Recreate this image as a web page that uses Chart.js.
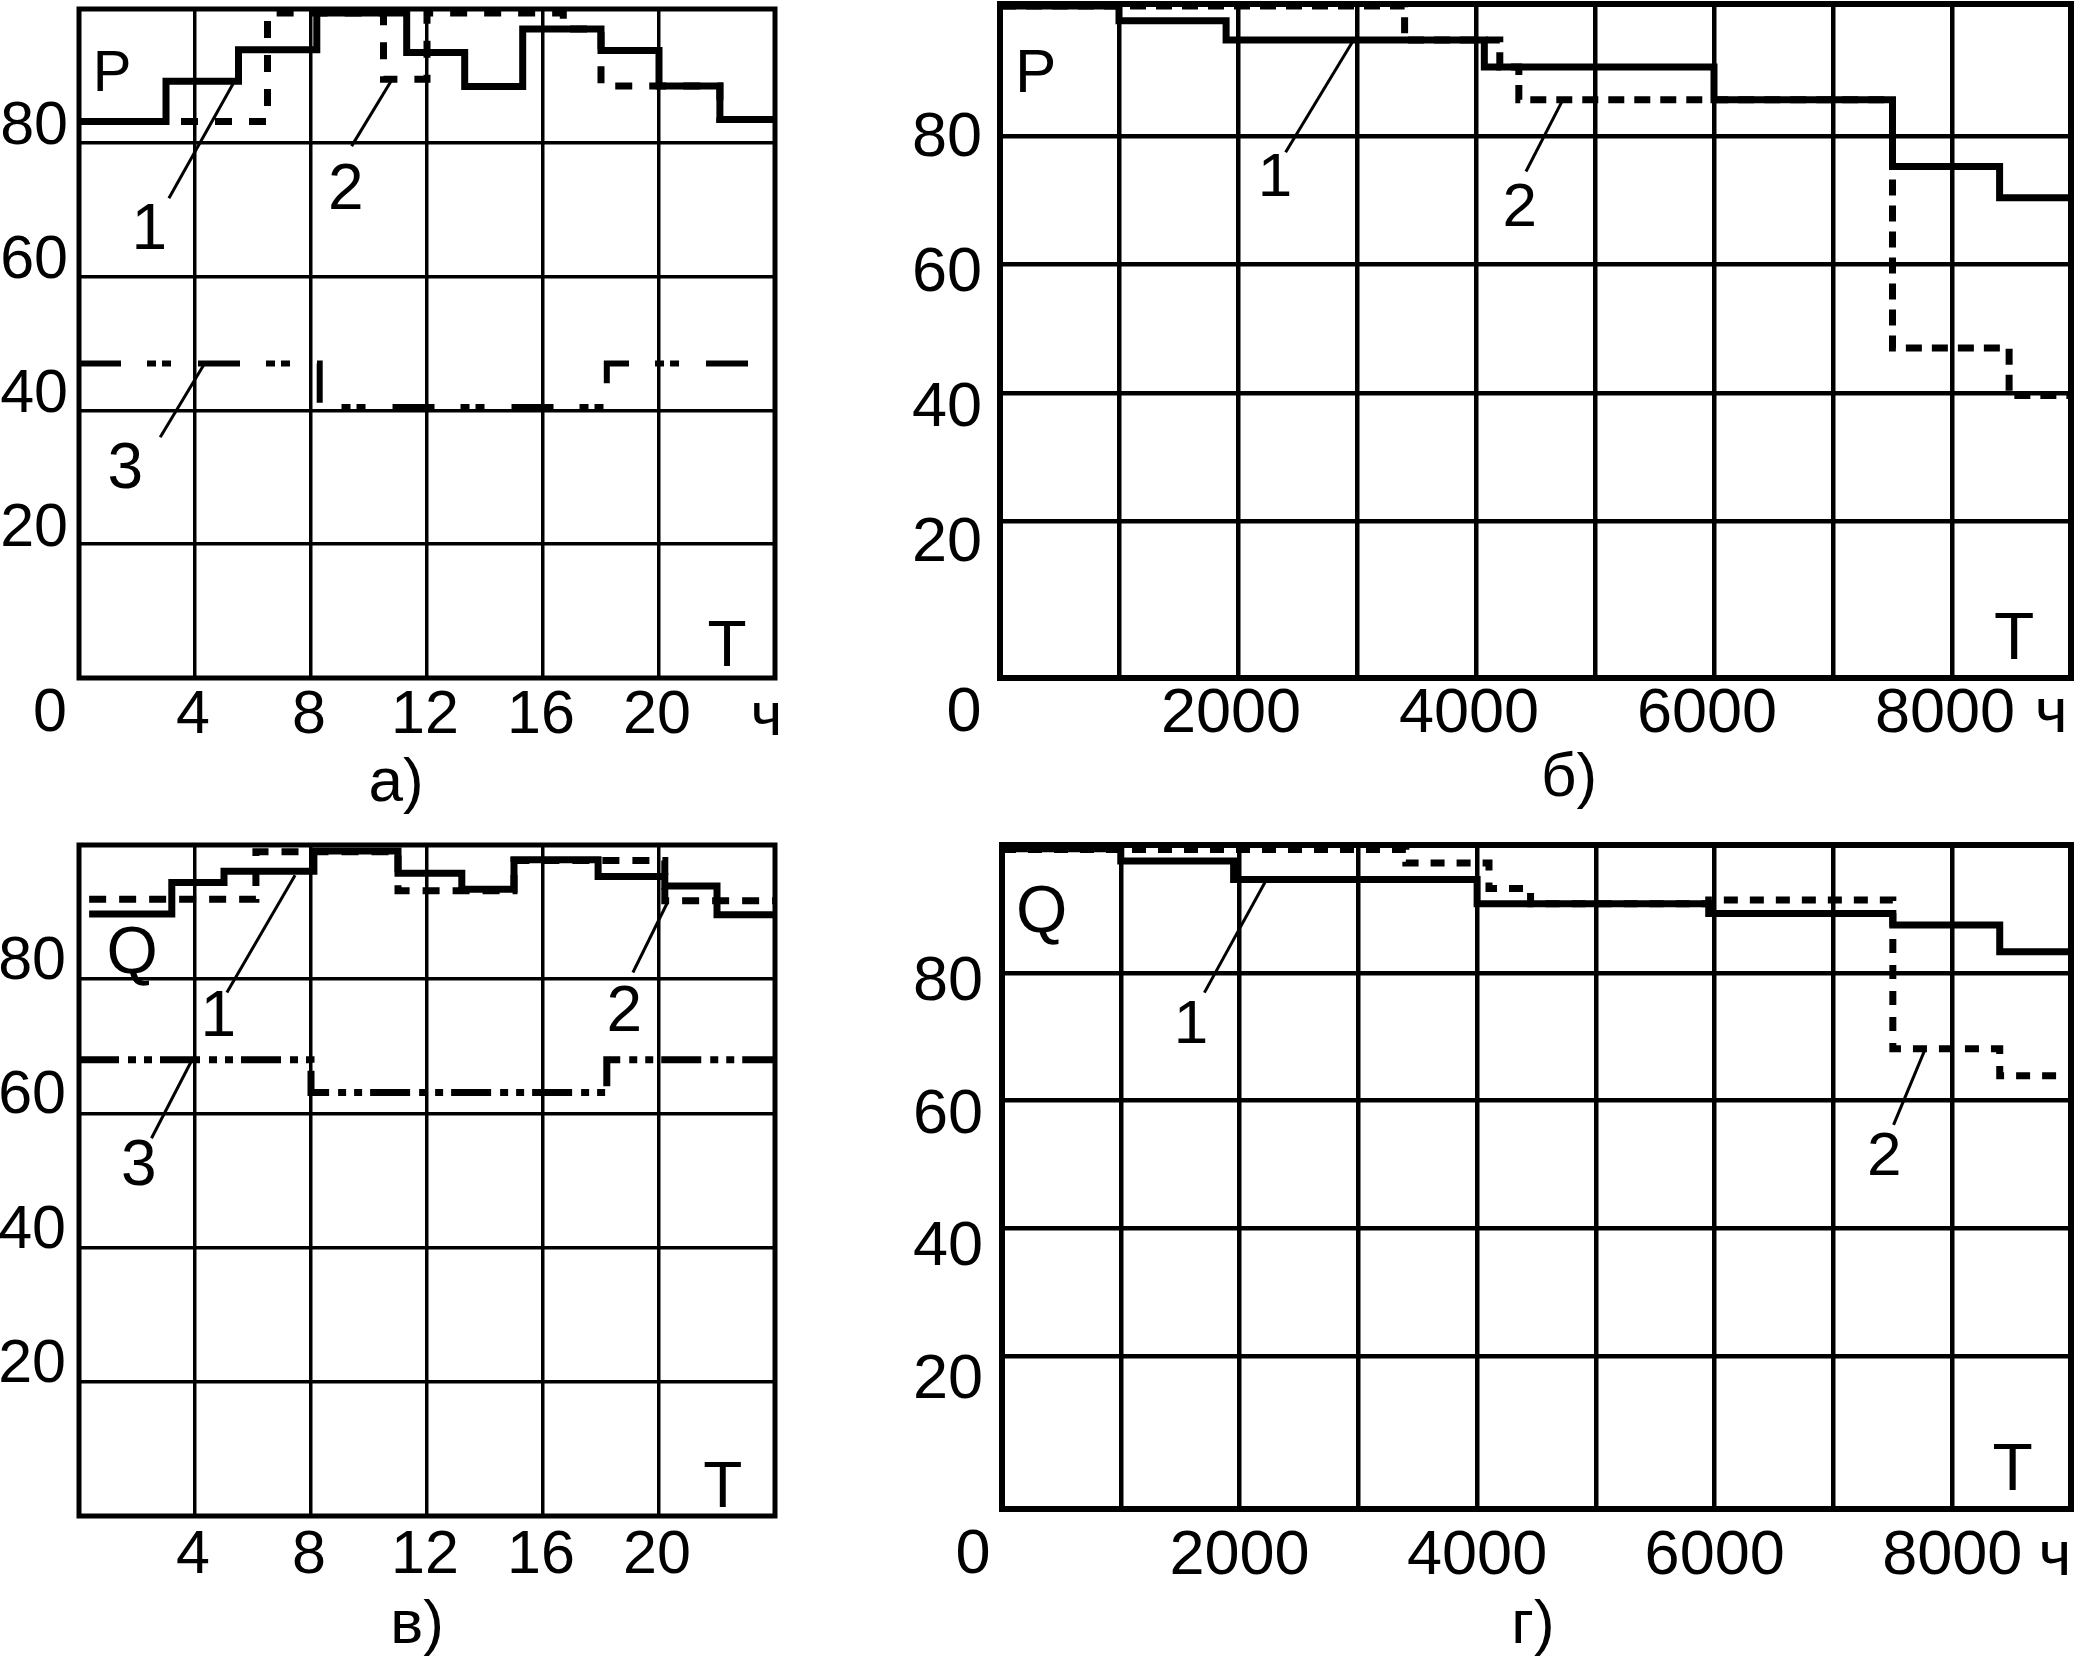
<!DOCTYPE html>
<html>
<head>
<meta charset="utf-8">
<title>P, Q</title>
<script src="https://cdn.jsdelivr.net/npm/chart.js@4.4.0/dist/chart.umd.min.js"></script>
<style>
  html, body { margin: 0; padding: 0; background: #fff; }
  body { width: 2076px; height: 1660px; position: relative; overflow: hidden; }
  canvas { position: absolute; }
</style>
</head>
<body>
<canvas id="chartA" width="830" height="830" style="left:0;top:0"></canvas>
<canvas id="chartB" width="1196" height="830" style="left:880px;top:0"></canvas>
<canvas id="chartV" width="830" height="830" style="left:0;top:830px"></canvas>
<canvas id="chartG" width="1196" height="830" style="left:880px;top:830px"></canvas>
<script>
const SANS = "'Liberation Sans', Arial, Helvetica, sans-serif";
const NARROW = "'Liberation Sans Narrow', 'Arial Narrow', 'Liberation Sans', Arial, sans-serif";

// axis ticks
const pctGrid = [20, 40, 60, 80];
const hourGrid = [0, 4, 8, 12, 16, 20, 24];
const hourLabels = ['', '4', '8', '12', '16', '20', ''];
const yearGrid = [0, 1000, 2000, 3000, 4000, 5000, 6000, 7000, 8000, 9000];
const yearLabels = ['', '', '2000', '', '4000', '', '6000', '', '8000', ''];

// а) P over a day (step starts, value held until next point)
const aT1 = [0, 3, 5.5, 8.2, 11.3, 13.3, 15.3, 18, 20, 22.1, 24];
const aP1 = [83.2, 89.2, 93.9, 99.4, 93.5, 88.4, 97, 93.8, 88.5, 83.5, 83.5];
const aT2 = [0, 6.5, 10.5, 12, 16.7, 18, 22.1, 24];
const aP2 = [83.2, 99.4, 89.5, 99.4, 97, 88.5, 83.5, 83.5];
const aT3 = [0, 8.3, 18.2, 24];
const aP3 = [47, 40.5, 47, 47];

// б) P over a year
const bT1 = [0, 1000, 1900, 4070, 6000, 7500, 8400, 9000];
const bP1 = [100.3, 98, 95, 90.8, 85.7, 75.3, 70.4, 70.4];
const bT2 = [0, 3400, 4200, 4360, 7500, 8480, 9000];
const bP2 = [100.3, 95, 90.8, 85.7, 47, 39.6, 39.6];

// в) Q over a day
const vT1 = [0.35, 3.2, 5.0, 8.1, 11.0, 13.2, 15.0, 17.9, 20.2, 22.0, 24];
const vQ1 = [89.7, 94.4, 96.1, 99.1, 95.8, 93.4, 97.8, 95.3, 93.9, 89.6, 89.6];
const vT2 = [0.35, 6.1, 11.0, 15.0, 20.2, 24];
const vQ2 = [91.9, 99.0, 93.2, 97.7, 91.7, 91.7];
const vT3 = [0, 8.0, 18.2, 24];
const vQ3 = [68, 63.1, 68, 68];

// г) Q over a year
const gT1 = [0, 1000, 1950, 4000, 5950, 7500, 8400, 9000];
const gQ1 = [99.4, 97.5, 94.6, 90.8, 89.3, 87.5, 83.3, 83.3];
const gT2 = [0, 3400, 4100, 4450, 5950, 7500, 8400, 9000];
const gQ2 = [99.3, 97.2, 93.2, 90.8, 91.4, 68.1, 63.9, 63.9];

function zeroPad(s) {
  s.paddingLeft = 0; s.paddingRight = 0; s.paddingTop = 0; s.paddingBottom = 0;
}

// frame, leader lines and in-plot letters
function notes(p) {
  return {
    id: 'notes',
    afterDatasetsDraw(chart) {
      const { ctx, chartArea } = chart;
      const x = chart.scales.x, y = chart.scales.y;
      ctx.save();
      ctx.strokeStyle = '#000';
      ctx.lineWidth = p.frame;
      ctx.strokeRect(chartArea.left, chartArea.top, chartArea.right - chartArea.left, chartArea.bottom - chartArea.top);

      ctx.lineWidth = 3;
      p.leaders.forEach(l => {
        ctx.beginPath();
        ctx.moveTo(x.getPixelForValue(l[0]), y.getPixelForValue(l[1]));
        ctx.lineTo(x.getPixelForValue(l[2]), y.getPixelForValue(l[3]));
        ctx.stroke();
      });

      ctx.fillStyle = '#000';
      ctx.textAlign = 'center';
      ctx.textBaseline = 'middle';
      p.marks.forEach(m => {
        ctx.font = m.size + 'px ' + p.family;
        ctx.fillText(m.text, x.getPixelForValue(m.x), y.getPixelForValue(m.y));
      });
      ctx.font = p.tickSize + 'px ' + p.family;
      if (p.zero) ctx.fillText('0', chartArea.left + p.zero.dx, chartArea.bottom + p.zero.dy);
      if (p.unit) ctx.fillText('ч', x.getPixelForValue(p.unit.x), chartArea.bottom + p.unit.dy);
      ctx.font = p.capSize + 'px ' + p.family;
      ctx.fillText(p.caption.text, chartArea.left + p.caption.dx, chartArea.bottom + p.caption.dy);
      ctx.restore();
    }
  };
}

function drawPanel(p) {
  const font = size => ({ family: p.family, size: size, lineHeight: 1 });
  new Chart(document.getElementById(p.id), {
    type: 'line',
    data: {
      datasets: p.series.map(s => ({
        data: s.t.map((t, i) => ({ x: t, y: s.v[i] })),
        borderColor: '#000',
        borderWidth: s.width,
        borderDash: s.dash || [],
        borderCapStyle: 'butt',
        borderJoinStyle: 'miter',
        pointRadius: 0,
        stepped: true,
        fill: false
      }))
    },
    options: {
      responsive: false,
      animation: false,
      devicePixelRatio: 1,
      events: [],
      layout: { padding: { left: 0, top: p.top, right: p.right, bottom: 0 } },
      plugins: { legend: { display: false }, tooltip: { enabled: false } },
      scales: {
        x: {
          type: 'linear', min: p.xMin, max: p.xMax,
          afterBuildTicks: s => { s.ticks = p.xGrid.map(v => ({ value: v })); },
          afterFit: s => { s.height = p.xHeight; zeroPad(s); },
          grid: { color: '#000', lineWidth: p.gridWidth, drawTicks: false },
          border: { display: false },
          ticks: {
            color: '#000', font: font(p.tickSize), padding: p.xPad,
            labelOffset: p.xLabelOffset, maxRotation: 0, autoSkip: false,
            callback: (v, i) => p.xLabels[i]
          }
        },
        y: {
          type: 'linear', position: 'left', weight: 0, min: p.yMin, max: p.yMax,
          afterBuildTicks: s => { s.ticks = pctGrid.map(v => ({ value: v })); },
          afterFit: s => { s.width = 0; zeroPad(s); },
          grid: { color: '#000', lineWidth: p.gridWidth, drawTicks: false },
          border: { display: false },
          ticks: { display: false }
        },
        yl: {
          type: 'linear', position: 'left', weight: 10, min: p.labMin, max: p.labMax,
          afterBuildTicks: s => { s.ticks = pctGrid.map(v => ({ value: v })); },
          afterFit: s => { s.width = p.yWidth; zeroPad(s); },
          grid: { display: false, drawTicks: false },
          border: { display: false },
          ticks: { color: '#000', font: font(p.tickSize), padding: p.yPad, autoSkip: false }
        }
      }
    },
    plugins: [notes(p)]
  });
}

drawPanel({
  id: 'chartA', family: SANS, tickSize: 61, capSize: 62,
  top: 9, right: 55, yWidth: 79, xHeight: 152,
  xMin: 0, xMax: 24, xGrid: hourGrid, xLabels: hourLabels, xPad: 8, xLabelOffset: -2,
  yMin: 0, yMax: 100, labMin: -2.3, labMax: 97.7, yPad: 11,
  gridWidth: 3.5, frame: 5,
  series: [
    { t: aT1, v: aP1, width: 7 },
    { t: aT2, v: aP2, width: 7, dash: [17, 17] },
    { t: aT3, v: aP3, width: 6, dash: [42, 26, 9, 6, 9, 27] }
  ],
  marks: [
    { text: 'P', x: 1.14, y: 90.1, size: 58 },
    { text: 'T', x: 22.35, y: 4.4, size: 64 },
    { text: '1', x: 2.42, y: 66.7, size: 64 },
    { text: '2', x: 9.2, y: 72.7, size: 64 },
    { text: '3', x: 1.6, y: 31.1, size: 64 }
  ],
  leaders: [[3.1, 71.7, 5.4, 89.5], [9.4, 79.5, 10.8, 89.5], [2.8, 36, 4.3, 46.8]],
  zero: { dx: -29, dy: 36 }, unit: { x: 23.7, dy: 40 },
  caption: { text: 'а)', dx: 317, dy: 106 }
});

drawPanel({
  id: 'chartB', family: NARROW, tickSize: 63, capSize: 62,
  top: 4, right: 5, yWidth: 120, xHeight: 152,
  xMin: 0, xMax: 9000, xGrid: yearGrid, xLabels: yearLabels, xPad: 5, xLabelOffset: -7,
  yMin: -4.4, yMax: 100.6, labMin: 0, labMax: 100, yPad: 18,
  gridWidth: 4.5, frame: 6,
  series: [
    { t: bT1, v: bP1, width: 7 },
    { t: bT2, v: bP2, width: 7, dash: [16, 10] }
  ],
  marks: [
    { text: 'P', x: 300, y: 89.5, size: 62 },
    { text: 'T', x: 8522, y: 1.4, size: 66 },
    { text: '1', x: 2311, y: 73.4, size: 62 },
    { text: '2', x: 4367, y: 68.7, size: 62 }
  ],
  leaders: [[2400, 77.5, 2965, 94.8], [4420, 74.5, 4725, 85.5]],
  zero: { dx: -36, dy: 36 }, unit: { x: 8833, dy: 37 },
  caption: { text: 'б)', dx: 569, dy: 101 }
});

drawPanel({
  id: 'chartV', family: SANS, tickSize: 61, capSize: 62,
  top: 15, right: 55, yWidth: 79, xHeight: 144,
  xMin: 0, xMax: 24, xGrid: hourGrid, xLabels: hourLabels, xPad: 10, xLabelOffset: -2,
  yMin: 0, yMax: 100, labMin: -2.5, labMax: 97.5, yPad: 13,
  gridWidth: 3.5, frame: 5,
  series: [
    { t: vT1, v: vQ1, width: 7 },
    { t: vT2, v: vQ2, width: 7, dash: [17, 13] },
    { t: vT3, v: vQ3, width: 7, dash: [40, 9, 8, 8, 8, 8] }
  ],
  marks: [
    { text: 'Q', x: 1.83, y: 83.6, size: 66 },
    { text: 'T', x: 22.2, y: 4, size: 64 },
    { text: '1', x: 4.8, y: 74.1, size: 64 },
    { text: '2', x: 18.8, y: 74.9, size: 64 },
    { text: '3', x: 2.06, y: 52, size: 64 }
  ],
  leaders: [[5.1, 78, 7.45, 95.5], [19.1, 81, 20.3, 91.5], [2.5, 56.3, 3.9, 68]],
  zero: null, unit: null,
  caption: { text: 'в)', dx: 338, dy: 110 }
});

drawPanel({
  id: 'chartG', family: NARROW, tickSize: 63, capSize: 62,
  top: 15, right: 5, yWidth: 122, xHeight: 151,
  xMin: 0, xMax: 9000, xGrid: yearGrid, xLabels: yearLabels, xPad: 16, xLabelOffset: 0,
  yMin: -3.9, yMax: 100, labMin: 0.7, labMax: 100.7, yPad: 19,
  gridWidth: 4.5, frame: 6,
  series: [
    { t: gT1, v: gQ1, width: 7 },
    { t: gT2, v: gQ2, width: 7, dash: [14, 12] }
  ],
  marks: [
    { text: 'Q', x: 334, y: 89.3, size: 66 },
    { text: 'T', x: 8508, y: 1.9, size: 66 },
    { text: '1', x: 1592, y: 71.7, size: 62 },
    { text: '2', x: 7428, y: 51, size: 62 }
  ],
  leaders: [[1704, 76.9, 2227, 94.6], [7506, 56.2, 7773, 68.1]],
  zero: { dx: -29, dy: 47 }, unit: { x: 8864, dy: 49 },
  caption: { text: 'г)', dx: 531, dy: 117 }
});
</script>
</body>
</html>
